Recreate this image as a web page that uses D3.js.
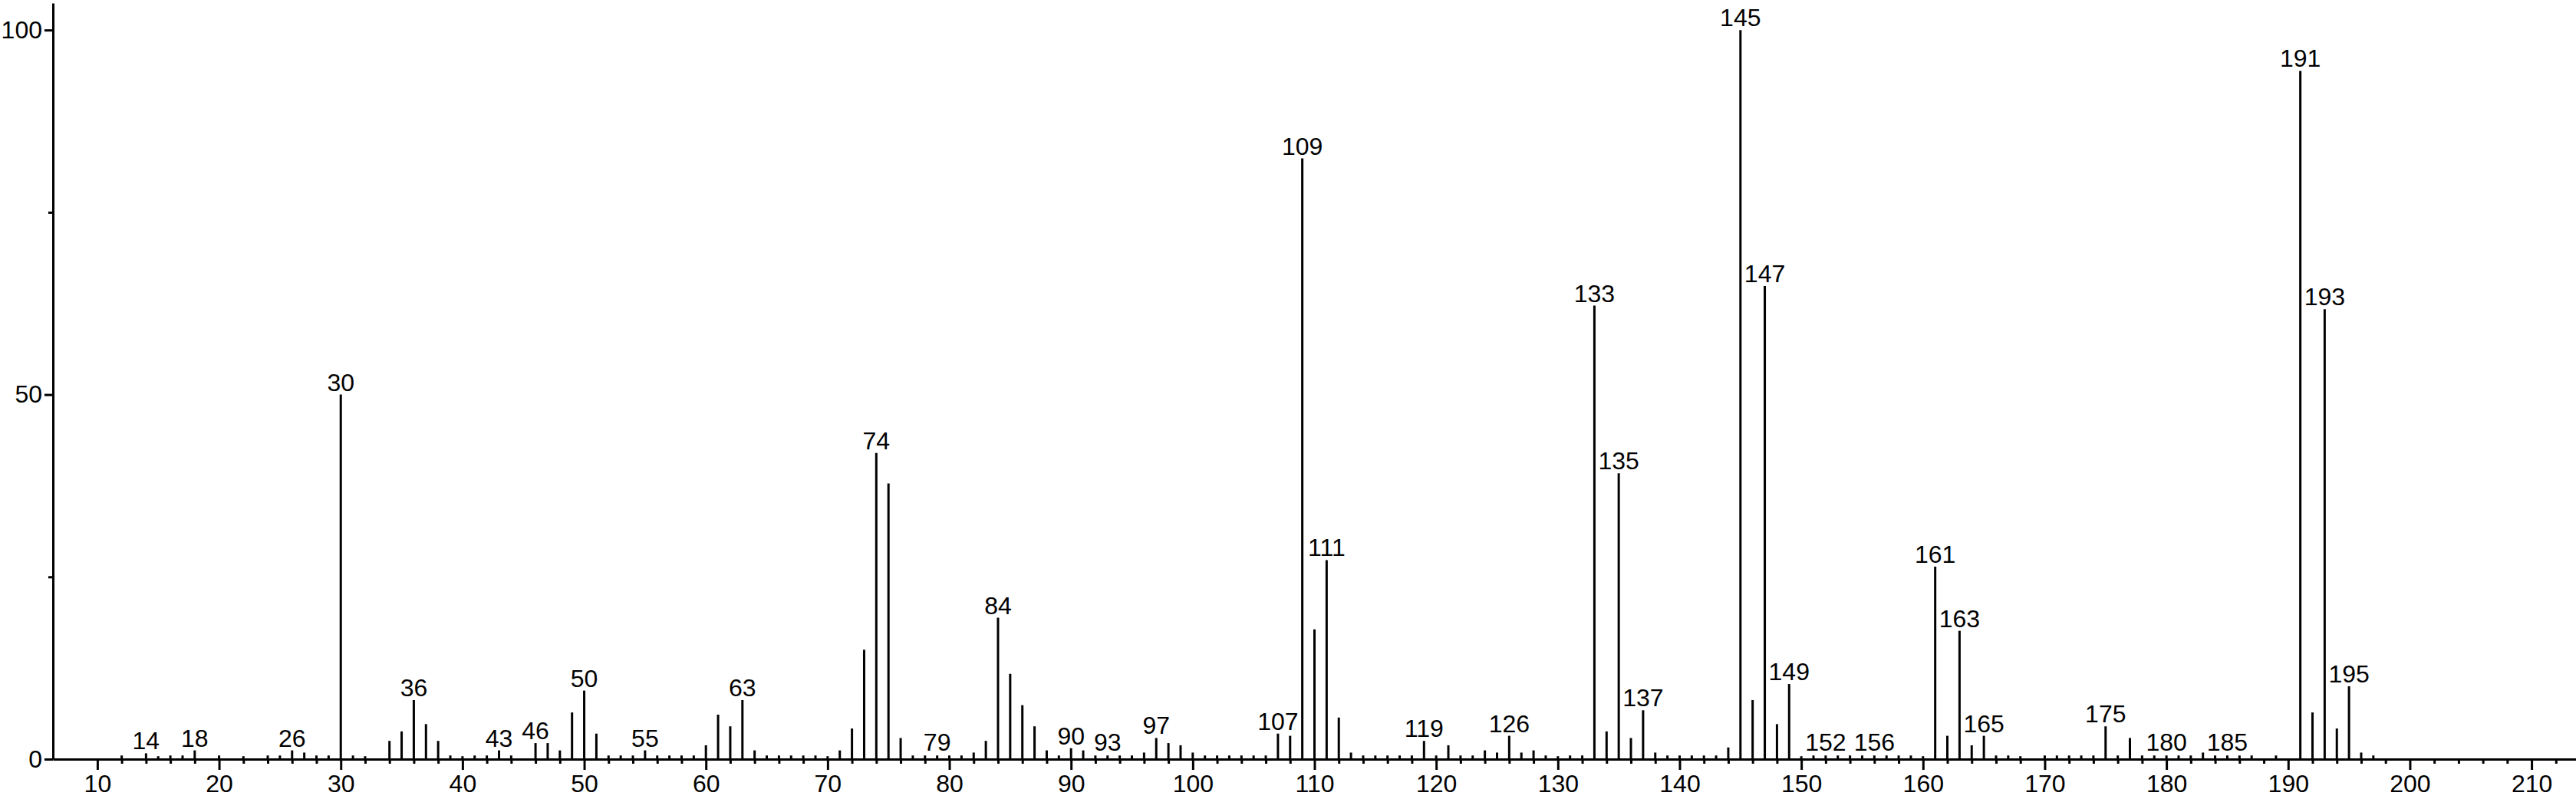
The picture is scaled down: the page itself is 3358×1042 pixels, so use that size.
<!DOCTYPE html>
<html>
<head>
<meta charset="utf-8">
<script src="https://cdn.jsdelivr.net/npm/d3@7"></script>
<style>
  html, body { margin: 0; padding: 0; background: #fff; }
  svg { display: block; }
  text { font-family: "Liberation Sans", Arial, sans-serif; fill: #000; }
</style>
</head>
<body>
<div id="mainDiv"></div>
<script>
'use strict';

// m/z values of the peaks
var masses = [
  12, 14, 15, 16, 17, 18, 20, 22, 24, 25, 26, 27, 28, 29, 30, 31, 32, 34, 35, 36, 37, 38, 39,
  40, 41, 42, 43, 44, 46, 47, 48, 49, 50, 51, 52, 53, 54, 55, 56, 57, 58, 59,
  60, 61, 62, 63, 64, 65, 66, 67, 68, 69, 70, 71, 72, 73, 74, 75, 76, 77, 78, 79,
  80, 81, 82, 83, 84, 85, 86, 87, 88, 89, 90, 91, 92, 93, 94, 95, 96, 97, 98, 99,
  100, 101, 102, 103, 104, 105, 106, 107, 108, 109, 110, 111, 112, 113, 114, 115, 116, 117, 118, 119,
  120, 121, 122, 123, 124, 125, 126, 127, 128, 129, 130, 131, 132, 133, 134, 135, 136, 137, 138, 139,
  140, 141, 142, 143, 144, 145, 146, 147, 148, 149, 150, 151, 152, 153, 154, 155, 156, 157, 158, 159,
  160, 161, 162, 163, 164, 165, 166, 167, 168, 170, 171, 172, 173, 174, 175, 176, 177, 178, 179,
  180, 181, 182, 183, 184, 185, 186, 187, 189, 191, 192, 193, 194, 195, 196, 197
];

// relative abundance (%) for each mass above
var abundances = [
  0.5, 0.8, 0.4, 0.5, 0.5, 1.2, 0.5, 0.4, 0.5, 0.5, 1.2, 0.9, 0.5, 0.5, 50, 0.5, 0.4, 2.5, 3.8, 8.1, 4.8, 2.5, 0.5,
  0.4, 0.5, 0.5, 1.2, 0.5, 2.2, 2.2, 1.2, 6.4, 9.4, 3.5, 0.5, 0.5, 0.5, 1.2, 0.5, 0.5, 0.5, 0.5,
  1.9, 6.1, 4.5, 8.1, 1.2, 0.5, 0.5, 0.5, 0.5, 0.5, 0.4, 1.2, 4.2, 15.0, 42.0, 37.8, 2.9, 0.5, 0.5, 0.5,
  0.5, 0.5, 0.9, 2.5, 19.4, 11.7, 7.4, 4.5, 1.2, 0.5, 1.5, 1.2, 0.5, 0.5, 0.5, 0.5, 0.9, 2.9, 2.2, 1.9,
  0.9, 0.5, 0.5, 0.5, 0.5, 0.5, 0.5, 3.5, 3.2, 82.4, 17.8, 27.3, 5.7, 0.9, 0.5, 0.5, 0.5, 0.5, 0.5, 2.5,
  0.5, 1.9, 0.5, 0.5, 1.2, 0.9, 3.2, 0.9, 1.2, 0.5, 0.4, 0.5, 0.5, 62.2, 3.8, 39.2, 2.9, 6.7, 0.9, 0.5,
  0.5, 0.5, 0.5, 0.5, 1.6, 100, 8.1, 64.9, 4.8, 10.3, 0.4, 0.5, 0.5, 0.5, 0.5, 0.5, 0.5, 0.5, 0.5, 0.5,
  0.4, 26.4, 3.2, 17.6, 1.9, 3.2, 0.5, 0.5, 0.4, 0.5, 0.5, 0.5, 0.5, 0.5, 4.5, 0.5, 2.9, 0.5, 0.5,
  0.5, 0.5, 0.5, 0.9, 0.5, 0.5, 0.5, 0.5, 0.5, 94.4, 6.4, 61.7, 4.2, 10.0, 0.9, 0.5
];

// peaks that carry a mass label
var labelled = [14, 18, 26, 30, 36, 43, 46, 50, 55, 63, 74, 79, 84, 90, 93, 97, 107, 109, 111, 119,
  126, 133, 135, 137, 145, 147, 149, 152, 156, 161, 163, 165, 175, 180, 185, 191, 193, 195];

// axis ticks
var xMajorTicks = [10, 20, 30, 40, 50, 60, 70, 80, 90, 100, 110, 120, 130, 140, 150, 160, 170, 180, 190, 200, 210];
var yMajorTicks = [0, 50, 100];
var yMinorTicks = [25, 75];

var W = 3358, H = 1042;
var left = 69, baseY = 990, topY = 4;
var fontSize = 32;

var svg = d3.select('#mainDiv').append('svg')
  .attr('width', W)
  .attr('height', H);

var x = d3.scaleLinear().domain([6.35, 213.65]).range([left, W]);
var y = d3.scaleLinear().domain([0, 103.7]).range([baseY, topY]);

var peaks = masses.map(function(m, i) { return {mz: m, ab: abundances[i]}; });

// x minor ticks every 2 units
var xMinor = d3.range(12, 214, 2).filter(function(v) { return v % 10 != 0; });

svg.append('g')
  .attr('transform', 'translate(0,' + baseY + ')')
  .call(d3.axisBottom(x).tickValues(xMinor).tickSize(6).tickSizeOuter(0).tickFormat(''))
  .call(function(g) { g.select('.domain').remove(); })
  .selectAll('line').attr('stroke-width', 3);

var xAxis = svg.append('g')
  .attr('transform', 'translate(0,' + baseY + ')')
  .call(d3.axisBottom(x).tickValues(xMajorTicks).tickSize(14).tickSizeOuter(0).tickPadding(6).tickFormat(d3.format('d')));

svg.append('g')
  .attr('transform', 'translate(' + left + ',0)')
  .call(d3.axisLeft(y).tickValues(yMinorTicks).tickSize(6).tickSizeOuter(0).tickFormat(''))
  .call(function(g) { g.select('.domain').remove(); })
  .selectAll('line').attr('stroke-width', 3);

var yAxis = svg.append('g')
  .attr('transform', 'translate(' + left + ',0)')
  .call(d3.axisLeft(y).tickValues(yMajorTicks).tickSize(11).tickSizeOuter(0).tickPadding(3).tickFormat(d3.format('d')));

[xAxis, yAxis].forEach(function(a) {
  a.select('.domain').attr('stroke', '#000').attr('stroke-width', 3);
  a.selectAll('.tick line').attr('stroke', '#000').attr('stroke-width', 3);
  a.selectAll('.tick text')
    .style('font-family', '"Liberation Sans", Arial, sans-serif')
    .style('font-size', fontSize + 'px')
    .attr('fill', '#000');
});

// stick spectrum
svg.append('g')
  .selectAll('line')
  .data(peaks)
  .enter()
  .append('line')
  .attr('x1', function(d) { return x(d.mz); })
  .attr('x2', function(d) { return x(d.mz); })
  .attr('y1', baseY)
  .attr('y2', function(d) { return y(d.ab); })
  .attr('stroke', '#000')
  .attr('stroke-width', 3);

// peak labels
svg.append('g')
  .selectAll('text')
  .data(peaks.filter(function(d) { return labelled.indexOf(d.mz) >= 0; }))
  .enter()
  .append('text')
  .attr('x', function(d) { return x(d.mz); })
  .attr('y', function(d) { return Math.min(y(d.ab) - 5, baseY - 11); })
  .attr('text-anchor', 'middle')
  .style('font-size', fontSize + 'px')
  .text(function(d) { return d.mz; });
</script>
</body>
</html>
